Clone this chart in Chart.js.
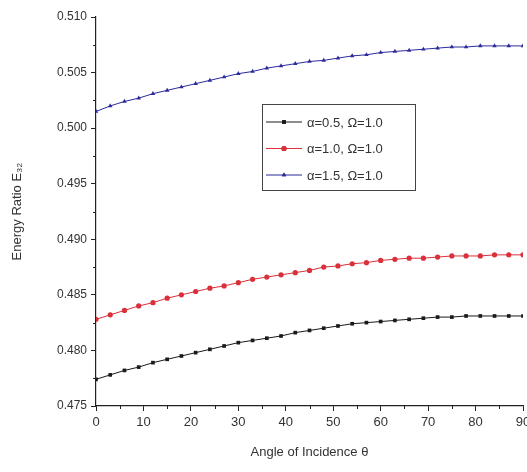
<!DOCTYPE html>
<html>
<head>
<meta charset="utf-8">
<script src="https://cdn.jsdelivr.net/npm/chart.js@4/dist/chart.umd.min.js"></script>
<style>
  html, body { margin: 0; padding: 0; background: #fff; overflow: hidden; }
  #wrap { width: 540px; height: 472px; }
</style>
</head>
<body>
<div id="wrap"><canvas id="chart" width="540" height="472"></canvas></div>
<script>
// Angle of incidence, every 3 degrees
const angles = [0, 3, 6, 9, 12, 15, 18, 21, 24, 27, 30, 33, 36, 39, 42, 45,
                48, 51, 54, 57, 60, 63, 66, 69, 72, 75, 78, 81, 84, 87, 90];

// Energy ratio values
const alpha05 = [0.4774, 0.4778, 0.4782, 0.4785, 0.4789, 0.4792, 0.4795, 0.4798, 0.4801, 0.4804,
                 0.4807, 0.4809, 0.4811, 0.4813, 0.4816, 0.4818, 0.4820, 0.4822, 0.4824, 0.4825,
                 0.4826, 0.4827, 0.4828, 0.4829, 0.4830, 0.4830, 0.4831, 0.4831, 0.4831, 0.4831, 0.4831];
const alpha10 = [0.4828, 0.4832, 0.4836, 0.4840, 0.4843, 0.4847, 0.4850, 0.4853, 0.4856, 0.4858,
                 0.4861, 0.4864, 0.4866, 0.4868, 0.4870, 0.4872, 0.4875, 0.4876, 0.4878, 0.4879,
                 0.4881, 0.4882, 0.4883, 0.4883, 0.4884, 0.4885, 0.4885, 0.4885, 0.4886, 0.4886, 0.4886];
const alpha15 = [0.5015, 0.5020, 0.5024, 0.5027, 0.5031, 0.5034, 0.5037, 0.5040, 0.5043, 0.5046,
                 0.5049, 0.5051, 0.5054, 0.5056, 0.5058, 0.5060, 0.5061, 0.5063, 0.5065, 0.5066,
                 0.5068, 0.5069, 0.5070, 0.5071, 0.5072, 0.5073, 0.5073, 0.5074, 0.5074, 0.5074, 0.5074];

const seriesLabels = ['\u03b1=0.5, \u03a9=1.0', '\u03b1=1.0, \u03a9=1.0', '\u03b1=1.5, \u03a9=1.0'];
const seriesColors = ['#1a1a1a', '#d9303a', '#2b2b9c'];
const seriesMarkers = ['rect', 'circle', 'triangle'];

// Axis ticks
const xTicks = [0, 10, 20, 30, 40, 50, 60, 70, 80, 90];
const yTicks = [0.475, 0.480, 0.485, 0.490, 0.495, 0.500, 0.505, 0.510];

function toPoints(values) {
    return values.map((v, i) => ({ x: angles[i], y: v }));
}

const datasets = [alpha05, alpha10, alpha15].map((vals, i) => ({
    label: seriesLabels[i],
    data: toPoints(vals),
    borderColor: seriesColors[i],
    backgroundColor: seriesColors[i],
    borderWidth: 1,
    pointStyle: seriesMarkers[i],
    pointRadius: 2.6,
    pointBorderWidth: 0,
    tension: 0
}));

// Minor ticks and the in-plot legend box
const extras = {
    id: 'extras',
    afterDraw(chart) {
        const ctx = chart.ctx;
        const x = chart.scales.x, y = chart.scales.y;
        ctx.save();
        ctx.strokeStyle = '#222';
        ctx.lineWidth = 1;
        // minor x ticks
        for (let v = 5; v < 90; v += 10) {
            const px = Math.round(x.getPixelForValue(v)) + 0.5;
            ctx.beginPath();
            ctx.moveTo(px, y.bottom);
            ctx.lineTo(px, y.bottom + 3);
            ctx.stroke();
        }
        // minor y ticks
        for (let v = 0.4775; v < 0.510; v += 0.005) {
            const py = Math.round(y.getPixelForValue(v)) + 0.5;
            ctx.beginPath();
            ctx.moveTo(x.left - 3, py);
            ctx.lineTo(x.left, py);
            ctx.stroke();
        }

        // legend
        const lx = 262, ly = 104, lw = 153, lh = 86;
        ctx.strokeStyle = '#444';
        ctx.strokeRect(lx + 0.5, ly + 0.5, lw, lh);
        ctx.font = '13px "Liberation Sans", Arial, sans-serif';
        ctx.textBaseline = 'middle';
        chart.data.datasets.forEach((ds, i) => {
            const cy = ly + 18 + i * 26.5;
            ctx.strokeStyle = ds.borderColor;
            ctx.beginPath();
            ctx.moveTo(lx + 4, cy);
            ctx.lineTo(lx + 40, cy);
            ctx.stroke();
            ctx.fillStyle = ds.borderColor;
            Chart.helpers.drawPoint(ctx, { pointStyle: ds.pointStyle, radius: 2.6, borderWidth: 0 }, lx + 22, cy);
            ctx.fill();
            ctx.fillStyle = '#333';
            ctx.fillText(ds.label, lx + 45, cy + 1);
        });
        ctx.restore();
    }
};

new Chart(document.getElementById('chart'), {
    type: 'line',
    data: { datasets: datasets },
    options: {
        responsive: false,
        animation: false,
        layout: { padding: { top: 17, right: 17, left: 0, bottom: 0 } },
        plugins: { legend: { display: false }, tooltip: { enabled: false } },
        scales: {
            x: {
                type: 'linear',
                min: 0,
                max: 90,
                afterBuildTicks: s => { s.ticks = xTicks.map(v => ({ value: v })); },
                afterFit: s => { s.height = 66; },
                grid: { drawOnChartArea: false, drawTicks: true, tickLength: 5, color: '#222' },
                border: { display: true, color: '#222', width: 1.2 },
                ticks: {
                    color: '#333',
                    padding: 4,
                    font: { family: '"Liberation Sans", Arial, sans-serif', size: 13 }
                },
                title: {
                    display: true,
                    text: 'Angle of Incidence \u03b8',
                    color: '#333',
                    padding: { top: 4, bottom: 12 },
                    font: { family: '"Liberation Sans", Arial, sans-serif', size: 13 }
                }
            },
            y: {
                min: 0.475,
                max: 0.510,
                afterBuildTicks: s => { s.ticks = yTicks.map(v => ({ value: v })); },
                afterFit: s => { s.width = 96; },
                grid: { drawOnChartArea: false, drawTicks: true, tickLength: 5, color: '#222' },
                border: { display: true, color: '#222', width: 1.2 },
                ticks: {
                    color: '#333',
                    padding: 4,
                    callback: v => v.toFixed(3),
                    font: { family: '"Liberation Sans", Arial, sans-serif', size: 12 }
                },
                title: {
                    display: true,
                    text: 'Energy Ratio E\u2083\u2082',
                    color: '#333',
                    padding: { top: 10, bottom: 4 },
                    font: { family: '"Liberation Sans", Arial, sans-serif', size: 13 }
                }
            }
        }
    },
    plugins: [extras]
});
</script>
</body>
</html>
